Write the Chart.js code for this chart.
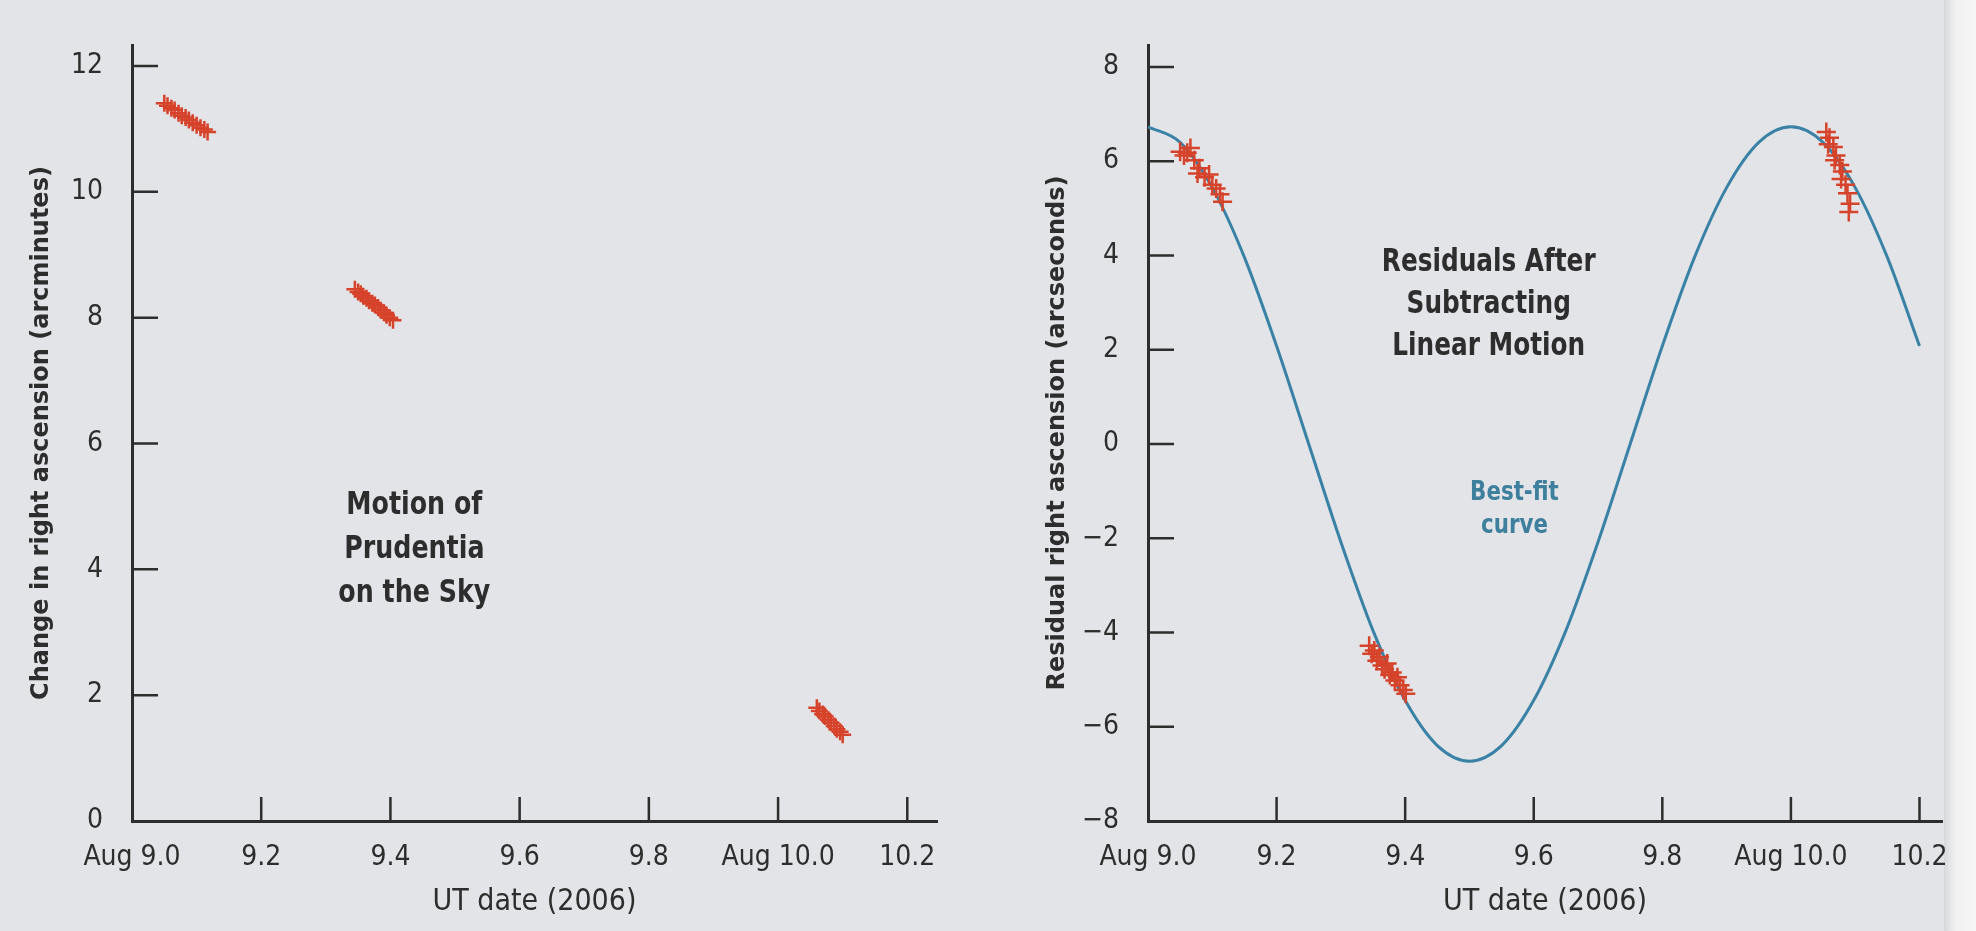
<!DOCTYPE html>
<html>
<head>
<meta charset="utf-8">
<script src="https://cdn.jsdelivr.net/npm/chart.js@4.4.1/dist/chart.umd.min.js"></script>
<style>
    html, body { margin: 0; padding: 0; }
    body { width: 1976px; height: 931px; background: #e2e4e7; position: relative; overflow: hidden; }
    #motion { position: absolute; left: 0; top: 0; }
    #resid { position: absolute; left: 970px; top: 0; }
    #edge { position: absolute; left: 1944px; top: 0; width: 32px; height: 931px;
            background: linear-gradient(90deg, #d6d8da, #f1f1f1 35%, #f6f6f6); }
</style>
</head>
<body>
<div id="edge"></div>
<canvas id="motion" width="970" height="931"></canvas>
<canvas id="resid" width="1006" height="931"></canvas>
<script>
// shared x axis (UT date, Aug 2006)
var xTicks = [9.0, 9.2, 9.4, 9.6, 9.8, 10.0, 10.2]
var xTickLabels = ['Aug 9.0', '9.2', '9.4', '9.6', '9.8', 'Aug 10.0', '10.2']

// left panel: change in right ascension (arcminutes)
var motionTicks = [0, 2, 4, 6, 8, 10, 12]
var motionDates = [
    9.050, 9.055, 9.061, 9.066, 9.072, 9.077, 9.083, 9.088, 9.094, 9.100, 9.106, 9.112, 9.117,
    9.345, 9.350, 9.354, 9.358, 9.363, 9.367, 9.372, 9.376, 9.381, 9.385, 9.390, 9.394, 9.399, 9.404,
    10.060, 10.064, 10.069, 10.073, 10.078, 10.082, 10.087, 10.091, 10.096, 10.100
]
var motionRA = [
    11.41, 11.37, 11.33, 11.30, 11.25, 11.21, 11.18, 11.14, 11.10, 11.06, 11.02, 10.99, 10.95,
    8.45, 8.41, 8.38, 8.34, 8.31, 8.27, 8.23, 8.20, 8.16, 8.12, 8.08, 8.04, 8.00, 7.96,
    1.80, 1.75, 1.70, 1.66, 1.61, 1.56, 1.51, 1.46, 1.42, 1.37
]

// right panel: residual right ascension (arcseconds)
var residTicks = [-8, -6, -4, -2, 0, 2, 4, 6, 8]
var residDates = [
    9.050, 9.056, 9.061, 9.066, 9.072, 9.077, 9.080, 9.088, 9.095, 9.100, 9.106, 9.112, 9.116,
    9.344, 9.348, 9.352, 9.356, 9.360, 9.364, 9.368, 9.372, 9.376, 9.380, 9.384, 9.388, 9.392, 9.397, 9.401,
    10.055, 10.060, 10.058, 10.066, 10.070, 10.068, 10.076, 10.080, 10.078, 10.085, 10.088, 10.092, 10.090
]
var residRA = [
    6.20, 6.12, 6.18, 6.28, 6.02, 5.74, 5.85, 5.66, 5.72, 5.50, 5.42, 5.30, 5.14,
    -4.28, -4.45, -4.38, -4.60, -4.52, -4.70, -4.78, -4.66, -4.90, -4.85, -5.02, -4.95, -5.12, -5.22, -5.30,
    6.62, 6.50, 6.36, 6.30, 6.12, 6.02, 5.92, 5.78, 5.62, 5.50, 5.32, 5.10, 4.92
]

// best-fit curve
var fitDates = [
    9.00, 9.05, 9.10, 9.15, 9.20, 9.25, 9.30, 9.35, 9.40, 9.45, 9.50, 9.55, 9.60,
    9.65, 9.70, 9.75, 9.80, 9.85, 9.90, 9.95, 10.00, 10.05, 10.10, 10.15, 10.20
]
var fitValues = [
    6.73, 6.40, 5.44, 3.96, 2.08, 0.00, -2.08, -3.96, -5.44, -6.40, -6.73, -6.40, -5.44,
    -3.96, -2.08, 0.00, 2.08, 3.96, 5.44, 6.40, 6.73, 6.40, 5.44, 3.96, 2.08
]

var ink = '#2d2d2d'
var markRed = '#d6432a'
var fitBlue = '#3a82a5'
var narrow = '"DejaVu Sans Condensed", "Liberation Sans Narrow", "DejaVu Sans", sans-serif'
var wide = '"DejaVu Sans", Verdana, sans-serif'

function pairs(xs, ys) {
    return xs.map(function (v, i) { return { x: v, y: ys[i] } })
}

// tick marks point into the plot in the original
var inwardTicks = {
    id: 'inwardTicks',
    afterDraw: function (chart) {
        var ctx = chart.ctx, area = chart.chartArea
        var xs = chart.scales.x, ys = chart.scales.y
        ctx.save()
        ctx.strokeStyle = ink
        ctx.lineWidth = 2.5
        ctx.beginPath()
        xs.ticks.forEach(function (t, i) {
            if (i === 0) return
            var px = xs.getPixelForValue(t.value)
            ctx.moveTo(px, area.bottom)
            ctx.lineTo(px, area.bottom - 24)
        })
        ys.ticks.forEach(function (t, i) {
            if (i === 0) return
            var py = ys.getPixelForValue(t.value)
            ctx.moveTo(area.left, py)
            ctx.lineTo(area.left + 26, py)
        })
        ctx.stroke()
        ctx.restore()
    }
}

// text labels placed in data units, squeezed a little to look like the narrow print face
var notesPlugin = {
    id: 'notes',
    afterDatasetsDraw: function (chart, args, opts) {
        var ctx = chart.ctx
        ;(opts.items || []).forEach(function (n) {
            var px = chart.scales.x.getPixelForValue(n.x)
            var py = chart.scales.y.getPixelForValue(n.y)
            n.lines.forEach(function (s, i) {
                ctx.save()
                ctx.translate(px, py + (i - (n.lines.length - 1) / 2) * n.gap)
                ctx.scale(n.squeeze, 1)
                ctx.font = n.font
                ctx.fillStyle = n.color
                ctx.textAlign = 'center'
                ctx.textBaseline = 'middle'
                ctx.fillText(s, 0, 0)
                ctx.restore()
            })
        })
    }
}

function xAxis(maxVal) {
    return {
        type: 'linear',
        min: 9.0,
        max: maxVal,
        afterBuildTicks: function (s) { s.ticks = xTicks.map(function (v) { return { value: v } }) },
        afterFit: function (s) { s.height = 110 },
        grid: { display: false },
        border: { display: true, color: ink, width: 3 },
        ticks: {
            autoSkip: false, maxRotation: 0, padding: 12, color: ink,
            font: { family: narrow, size: 28 },
            callback: function (v, i) { return xTickLabels[i] }
        },
        title: {
            display: true, text: 'UT date (2006)', color: ink,
            font: { family: narrow, size: 30 },
            padding: { top: 0, bottom: 11 }
        }
    }
}

function yAxis(minVal, maxVal, tickList, title, boxWidth, titlePad, fmt) {
    return {
        type: 'linear',
        min: minVal,
        max: maxVal,
        afterBuildTicks: function (s) { s.ticks = tickList.map(function (v) { return { value: v } }) },
        afterFit: function (s) { s.width = boxWidth },
        grid: { display: false },
        border: { display: true, color: ink, width: 3 },
        ticks: {
            padding: 21, color: ink,
            font: { family: narrow, size: 28 },
            callback: fmt
        },
        title: {
            display: true, text: title, color: ink,
            font: { family: wide, size: 24, weight: 'bold' },
            padding: { top: titlePad, bottom: 0 }
        }
    }
}

var common = {
    responsive: false,
    animation: false,
    events: [],
    plugins: { legend: { display: false }, tooltip: { enabled: false } }
}

new Chart(document.getElementById('motion'), {
    type: 'scatter',
    data: {
        datasets: [{
            data: pairs(motionDates, motionRA),
            pointStyle: 'cross',
            pointRadius: 8.5,
            borderWidth: 2.5,
            borderColor: markRed,
            backgroundColor: markRed
        }]
    },
    options: Object.assign({}, common, {
        layout: { padding: { top: 45, right: 33, bottom: 0, left: 0 } },
        scales: {
            x: xAxis(10.246),
            y: yAxis(0, 12.334, motionTicks, 'Change in right ascension (arcminutes)', 132, 27.6,
                function (v) { return String(v) })
        },
        plugins: Object.assign({}, common.plugins, {
            notes: {
                items: [{
                    lines: ['Motion of', 'Prudentia', 'on the Sky'],
                    x: 9.437, y: 4.31, gap: 44, color: ink, squeeze: 0.88,
                    font: 'bold 32px ' + narrow
                }]
            }
        })
    }),
    plugins: [inwardTicks, notesPlugin]
})

new Chart(document.getElementById('resid'), {
    type: 'scatter',
    data: {
        datasets: [{
            data: pairs(residDates, residRA),
            pointStyle: 'cross',
            pointRadius: 9.5,
            borderWidth: 2.5,
            borderColor: markRed,
            backgroundColor: markRed
        }, {
            type: 'line',
            data: pairs(fitDates, fitValues),
            showLine: true,
            pointRadius: 0,
            borderWidth: 3,
            borderColor: fitBlue,
            cubicInterpolationMode: 'monotone'
        }]
    },
    options: Object.assign({}, common, {
        layout: { padding: { top: 45, right: 34, bottom: 0, left: 0 } },
        scales: {
            x: xAxis(10.235),
            y: yAxis(-8, 8.466, residTicks, 'Residual right ascension (arcseconds)', 178, 73.6,
                function (v) { return v < 0 ? '\u2212' + Math.abs(v) : String(v) })
        },
        plugins: Object.assign({}, common.plugins, {
            notes: {
                items: [{
                    lines: ['Residuals After', 'Subtracting', 'Linear Motion'],
                    x: 9.53, y: 2.96, gap: 42, color: ink, squeeze: 0.86,
                    font: 'bold 32px ' + narrow
                }, {
                    lines: ['Best-fit', 'curve'],
                    x: 9.57, y: -1.38, gap: 33, color: '#3d7f9d', squeeze: 0.88,
                    font: 'bold 27px ' + narrow
                }]
            }
        })
    }),
    plugins: [inwardTicks, notesPlugin]
})
</script>
</body>
</html>
